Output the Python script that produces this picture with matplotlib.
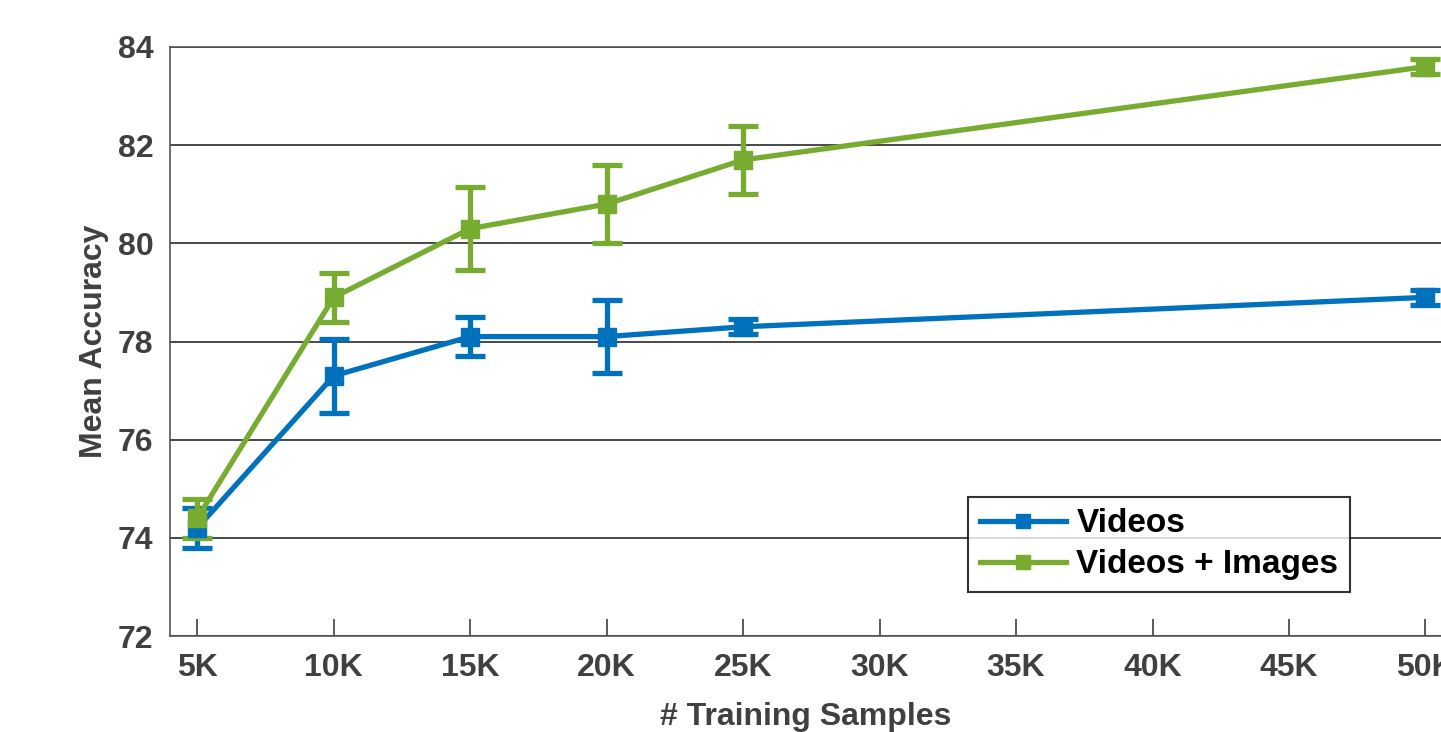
import matplotlib.pyplot as plt
from matplotlib.lines import Line2D
import numpy as np

# datos
muestras = [5000, 10000, 15000, 20000, 25000, 50000]
acc_videos = [74.2, 77.3, 78.1, 78.1, 78.3, 78.9]
err_videos = [0.4, 0.75, 0.4, 0.75, 0.15, 0.15]
acc_vid_img = [74.4, 78.9, 80.3, 80.8, 81.7, 83.6]
err_vid_img = [0.4, 0.5, 0.85, 0.8, 0.7, 0.15]
xticks = [5000, 10000, 15000, 20000, 25000, 30000, 35000, 40000, 45000, 50000]
xticklabels = ['5K', '10K', '15K', '20K', '25K', '30K', '35K', '40K', '45K', '50K']
yticks = [72, 74, 76, 78, 80, 82, 84]

azul = '#0072BD'
verde = '#77AC30'
gris = '#404040'

plt.rcParams['font.family'] = ['Liberation Sans', 'DejaVu Sans']
plt.rcParams['font.weight'] = 'bold'
plt.rcParams['axes.labelweight'] = 'bold'

fig = plt.figure(figsize=(14.41, 7.32), dpi=100)
ax = fig.add_axes([170 / 1441, 1 - 636 / 732, 1 - 170 / 1441, (636 - 47) / 732])

handles = []
for y, e, c, lab in [(acc_videos, err_videos, azul, 'Videos'),
                     (acc_vid_img, err_vid_img, verde, 'Videos + Images')]:
    ax.errorbar(muestras, y, yerr=e, color=c, linewidth=3.8, marker='s',
                markersize=13, capsize=11, capthick=3.8, elinewidth=3.8,
                zorder=3)
    handles.append(Line2D([], [], color=c, linewidth=3.8, marker='s',
                          markersize=10, label=lab))

ax.set_xlim(4000, 50570)
ax.set_ylim(72, 84)
ax.set_xticks(xticks)
ax.set_xticklabels(xticklabels)
ax.set_yticks(yticks)
ax.grid(axis='y', color='#2a2a2a', linewidth=1.2)
ax.tick_params(axis='x', direction='in', length=12, width=1.2, colors=gris,
               labelsize=23, pad=12)
ax.tick_params(axis='y', length=0, colors=gris, labelsize=23, pad=12)
for s in ['left', 'bottom', 'top']:
    ax.spines[s].set_color('#555555')
    ax.spines[s].set_linewidth(1.2)
ax.spines['right'].set_visible(False)

ax.set_xlabel('# Training Samples', fontsize=23, color=gris, labelpad=14)
ax.set_ylabel('Mean Accuracy', fontsize=23, color=gris, labelpad=6)

leg = ax.legend(handles=handles, loc='lower right',
                bbox_to_anchor=((1350 - 170) / (1441 - 170), 44 / 589),
                bbox_transform=ax.transAxes, fontsize=24, frameon=True,
                fancybox=False, edgecolor='black', handlelength=2.6,
                handletextpad=0.3, borderaxespad=0, borderpad=0.35,
                labelspacing=0.3)
leg.get_frame().set_linewidth(1.5)
for t in leg.get_texts():
    t.set_color('black')

fig.savefig('out.png', dpi=100)
